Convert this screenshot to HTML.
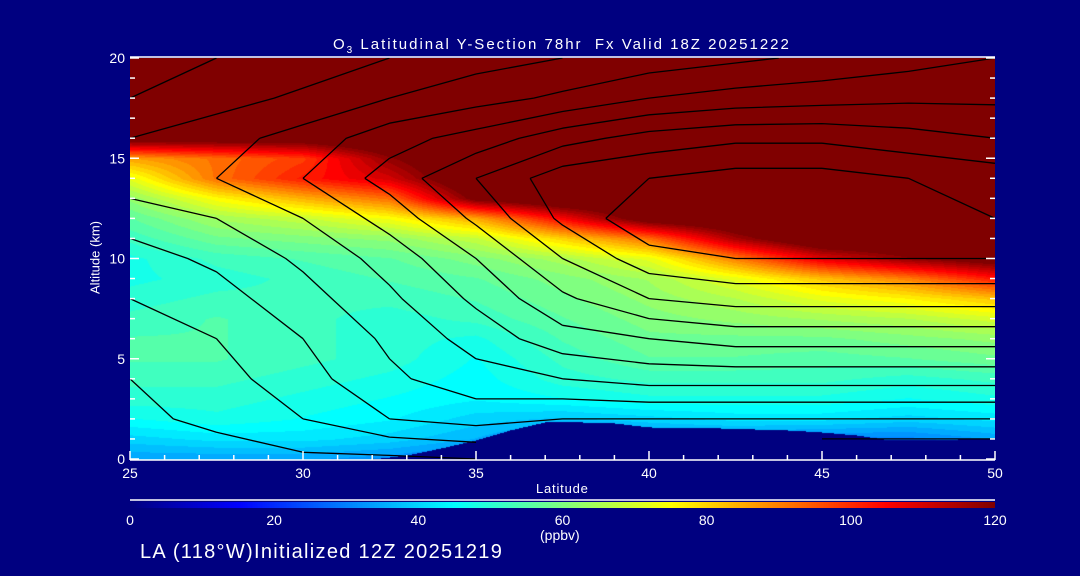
<!DOCTYPE html>
<html><head><meta charset="utf-8">
<style>
html,body{margin:0;padding:0;background:#000080;}
#wrap{position:relative;width:1080px;height:576px;background:#000080;overflow:hidden;font-family:"Liberation Sans",sans-serif;color:#fff;}
.t{position:absolute;white-space:nowrap;color:#fff;}
</style></head>
<body>
<div id="wrap">
<canvas id="field" width="865" height="402" style="position:absolute;left:130px;top:58px"></canvas>
<canvas id="cbar" width="865" height="6" style="position:absolute;left:130px;top:502px"></canvas>
<svg id="svg" width="1080" height="576" style="position:absolute;left:0;top:0">
  <g id="contours"></g>
  <g id="axes"></g>
</svg>
<div class="t" style="left:333px;top:36px;font-size:15px;letter-spacing:2px;">O<sub style="font-size:10px">3</sub> Latitudinal Y-Section 78hr&nbsp; Fx Valid 18Z 20251222</div>
<div class="t" style="left:536px;top:481px;font-size:13px;letter-spacing:0.8px;">Latitude</div>
<div class="t" style="left:40px;top:250px;font-size:13px;transform:rotate(-90deg);transform-origin:center;width:110px;text-align:center;">Altitude (km)</div>
<div class="t" style="left:540px;top:527px;font-size:14px;">(ppbv)</div>
<div class="t" style="left:140px;top:541px;font-size:20px;letter-spacing:1.3px;">LA (118°W)Initialized 12Z 20251219</div>
</div>
<script>
// Ozone field (ppbv): rows alt 20 -> 0 (step 1 km), cols lat 25..50 step 2.5
const latsO3=[25,27.5,30,32.5,35,37.5,40,42.5,45,47.5,50];
const o3Rows=[
[130,130,130,130,130,130,130,130,130,130,130],
[130,130,130,130,130,130,130,130,130,130,130],
[130,130,130,130,130,130,130,130,130,130,130],
[130,130,130,130,130,130,130,130,130,130,130],
[125,125,125,130,130,130,130,130,130,130,130],
[86,92,98,118,130,130,130,130,130,130,130],
[72,92,102,110,130,130,130,130,130,130,130],
[62,75,84,92,122,130,130,130,130,130,130],
[56,64,68,74,85,105,125,130,130,130,130],
[52,58,60,62,68,80,92,115,130,130,130],
[48,52,54,56,60,65,72,90,108,118,125],
[48,50,52,54,56,60,64,72,82,90,102],
[50,52,52,52,54,58,62,66,72,76,82],
[52,54,52,50,52,56,60,62,64,66,70],
[54,54,52,50,48,54,58,58,58,60,62],
[54,54,52,50,46,52,56,56,55,56,58],
[52,52,50,48,45,50,52,52,52,50,52],
[50,50,48,46,44,46,48,48,48,46,48],
[46,48,46,44,40,38,40,42,42,40,42],
[40,42,42,40,36,30,32,32,30,30,34],
[34,34,34,32,28,20,20,20,20,20,20]];
// terrain height (km) per degree lat 25..50
const terrainLat=[25,26,27,28,29,30,31,32,33,34,35,36,37,38,39,40,41,42,43,44,45,46,47,48,49,50];
const terrainKm=[0,0,0,0,0,0,0,0,0.2,0.55,0.95,1.45,1.85,1.85,1.8,1.6,1.55,1.55,1.5,1.45,1.35,1.2,0.95,0.95,1.0,1.0];
// contour field: rows alt 20 -> 0 step 2 km, cols lat 25..50 step 2.5
const contourRows=[
[8,10,12,15,18,20,22,24,26,28,30],
[10,13,16,20,23,26,30,32,33,34,34],
[15,18,22,28,32,38,42,44,44,42,40],
[18,20,25,32,40,48,50,52,52,50,48],
[12,15,20,27,36,46,54,56,54,52,50],
[8,11,16,22,30,40,48,50,50,50,50],
[5,8,13,19,26,34,40,42,42,42,42],
[2,5,10,16,22,28,30,32,32,32,32],
[0,3,8,14,18,20,22,22,22,22,22],
[-1,1,5,10,12,10,10,10,10,10,10],
[-3,-2,-1,-1,0,0,0,0,0,0,0]];
const contourLevels=[0,5,10,15,20,25,30,35,40,45,50];
const xTicks=[25,30,35,40,45,50];
const yTicks=[0,5,10,15,20];
const cbTicks=[0,20,40,60,80,100,120];

const X0=130,X1=995,Y0=459,Y1=58;
const NS='http://www.w3.org/2000/svg';
function xs(lat){return X0+(lat-25)/25*(X1-X0);}
function ys(alt){return Y0+alt/20*(Y1-Y0);}
function clamp01(x){return Math.max(0,Math.min(1,x));}
function jet(v){const t=clamp01(v/120);
 return [clamp01(1.5-Math.abs(4*t-3))*255,clamp01(1.5-Math.abs(4*t-2))*255,clamp01(1.5-Math.abs(4*t-1))*255];}
function terrainAt(lat){let i=Math.floor(lat-25);if(i<0)i=0;if(i>24)i=24;const f=lat-25-i;return terrainKm[i]*(1-f)+terrainKm[i+1]*f;}
function o3At(lat,alt){const cx=(lat-25)/2.5, ry=20-alt;
 let i=Math.floor(cx),j=Math.floor(ry);if(i<0)i=0;if(i>9)i=9;if(j<0)j=0;if(j>19)j=19;
 const fx=cx-i,fy=ry-j;
 const a=o3Rows[j][i],b=o3Rows[j][i+1],c=o3Rows[j+1][i],d=o3Rows[j+1][i+1];
 return (a*(1-fx)+b*fx)*(1-fy)+(c*(1-fx)+d*fx)*fy;}

try{
const cv=document.getElementById('field'),ctx=cv.getContext('2d');
const W=cv.width,H=cv.height,img=ctx.createImageData(W,H);
for(let py=0;py<H;py++){for(let px=0;px<W;px++){
 const lat=25+px/(W-1)*25, alt=20*(1-py/(H-1));
 const v=alt<terrainAt(lat)?0:Math.round(o3At(lat,alt)/2.5)*2.5;
 const col=jet(v);const k=(py*W+px)*4;
 img.data[k]=col[0];img.data[k+1]=col[1];img.data[k+2]=col[2];img.data[k+3]=255;}}
ctx.putImageData(img,0,0);
}catch(e){}

try{
const cb=document.getElementById('cbar'),cc=cb.getContext('2d');
for(let px=0;px<cb.width;px++){const col=jet(px/(cb.width-1)*120);cc.fillStyle='rgb('+Math.round(col[0])+','+Math.round(col[1])+','+Math.round(col[2])+')';cc.fillRect(px,0,1,6);}
}catch(e){}

try{
const gC=document.getElementById('contours');
const nr=contourRows.length,nc=contourRows[0].length;
function P(i,j){return [xs(25+i*2.5),ys(20-j*2)];}
contourLevels.forEach(function(L){
 let d='';
 for(let j=0;j<nr-1;j++)for(let i=0;i<nc-1;i++){
  const v=[contourRows[j][i],contourRows[j][i+1],contourRows[j+1][i+1],contourRows[j+1][i]];
  const c=[[i,j],[i+1,j],[i+1,j+1],[i,j+1]];
  const pts=[];
  for(let e=0;e<4;e++){const a=v[e],b=v[(e+1)%4];
   if((a<L)!==(b<L)){const f=(L-a)/(b-a);const pa=P(c[e][0],c[e][1]),pb=P(c[(e+1)%4][0],c[(e+1)%4][1]);
    pts.push([pa[0]+(pb[0]-pa[0])*f,pa[1]+(pb[1]-pa[1])*f]);}}
  for(let k=0;k+1<pts.length;k+=2){
   const lat1=25+(pts[k][0]-X0)/(X1-X0)*25,lat2=25+(pts[k+1][0]-X0)/(X1-X0)*25;
   const a1=(Y0-pts[k][1])/(Y0-Y1)*20,a2=(Y0-pts[k+1][1])/(Y0-Y1)*20;
   if(a1<terrainAt(lat1)&&a2<terrainAt(lat2))continue;
   d+='M'+pts[k][0].toFixed(1)+','+pts[k][1].toFixed(1)+'L'+pts[k+1][0].toFixed(1)+','+pts[k+1][1].toFixed(1);}
 }
 if(d){const p=document.createElementNS(NS,'path');p.setAttribute('d',d);p.setAttribute('stroke','#000');p.setAttribute('stroke-width','1.3');p.setAttribute('fill','none');
  
  
  gC.appendChild(p);}
});
}catch(e){}

const gA=document.getElementById('axes');
function mkLine(x1,y1,x2,y2,name){const l=document.createElementNS(NS,'line');l.setAttribute('x1',x1);l.setAttribute('y1',y1);l.setAttribute('x2',x2);l.setAttribute('y2',y2);l.setAttribute('stroke','#fff');l.setAttribute('stroke-width','1.5');
 
 
 gA.appendChild(l);}
function mkText(x,y,s,anchor,size,name){const t=document.createElementNS(NS,'text');t.setAttribute('x',x);t.setAttribute('y',y);t.setAttribute('fill','#fff');t.setAttribute('font-size',size);t.setAttribute('font-family','Liberation Sans, sans-serif');t.setAttribute('text-anchor',anchor);t.textContent=s;
 
 
 gA.appendChild(t);}
mkLine(X0,Y0+1,X1,Y0+1,'x-axis-line');
mkLine(X0,Y1-1,X1,Y1-1,'top-axis-line');
mkLine(130,500,995,500,'colorbar-top-line');
for(let lat=25;lat<=50;lat++){const big=lat%5===0;mkLine(xs(lat),Y0+1,xs(lat),Y0+1-(big?9:5),'x-tick');}
for(let a=0;a<=20;a++){const big=a%5===0;mkLine(X0,ys(a),X0+(big?9:5),ys(a),'y-tick');mkLine(X1,ys(a),X1-(big?9:5),ys(a),'y-tick-right');}
xTicks.forEach(function(v){mkText(xs(v),478,String(v),'middle',14,'x-tick-label');});
yTicks.forEach(function(v){mkText(X0-5,ys(v)+5,String(v),'end',14,'y-tick-label');});
cbTicks.forEach(function(v){mkText(130+v/120*865,525,String(v),'middle',14,'colorbar-tick-label');});
</script>
</body></html>
